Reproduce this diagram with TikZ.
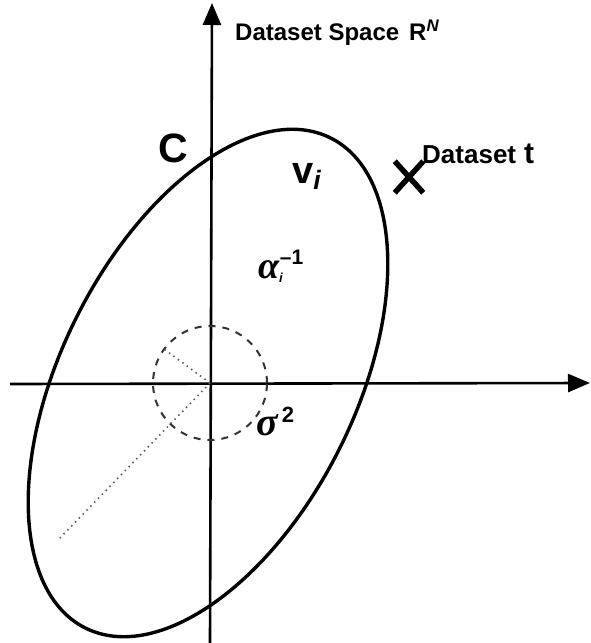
\RequirePackage{fix-cm}
\documentclass[tikz,border=0pt]{standalone}
\usepackage{fontspec}
\setmainfont{Liberation Sans}
\newfontfamily\grk{Liberation Serif}
\usetikzlibrary{arrows.meta,shapes.misc}
\begin{document}
\begin{tikzpicture}[x=1pt,y=-1pt,
  axis/.style={line width=2.6pt,-{Triangle[length=22pt,width=18pt]}},
  ell/.style={line width=3.4pt},
  dashcirc/.style={line width=2pt,black!80,dash pattern=on 7pt off 7pt},
  dotline/.style={line width=1.6pt,black!65,dash pattern=on 1.5pt off 4pt},
  lbl/.style={anchor=base west,inner sep=0pt}]
\useasboundingbox (0,0) rectangle (590,643);
% axes
\coordinate (O) at (210,383);
\coordinate (xs) at (10,384);
\coordinate (xe) at (590,383);
\coordinate (ys) at (210,643);
\coordinate (ye) at (212,3);
\draw[axis] (xs) -- (xe);
\draw[axis] (ys) -- (ye);
% ellipse C
\draw[ell,shift={(208,383)},rotate=63.4] (0,0) ellipse [x radius=274pt,y radius=147pt];
% dashed circle sigma^2
\draw[dashcirc] (O) circle [radius=57pt];
\coordinate (r1) at (164,349);
\coordinate (r2) at (58,540);
\draw[dotline] (O) -- (r1);
\draw[dotline] (O) -- (r2);
% dataset point
\node[cross out,draw,line width=5.5pt,minimum width=23pt,minimum height=26pt,inner sep=0pt] (T) at (409,177) {};
% labels
\node[lbl,font=\fontsize{24}{24}\selectfont\bfseries] (ds) at (235,40) {Dataset Space\hspace{10pt}R\textsuperscript{\itshape N}};
\node[lbl,font=\fontsize{41}{41}\selectfont\bfseries] (C) at (158,162) {C};
\node[lbl,font=\fontsize{38}{38}\selectfont\bfseries] (v) at (292,183) {v\textsubscript{\itshape i}};
\node[lbl,font=\fontsize{38}{38}\selectfont] (a) at (258,278) {{\grk\bfseries\itshape α}\raisebox{-4pt}{\fontsize{13}{13}\selectfont\bfseries\itshape i}\hspace{-3pt}\raisebox{14pt}{\fontsize{21}{21}\selectfont\bfseries –1}};
\node[lbl,font=\fontsize{40}{40}\selectfont] (s) at (256,435) {{\grk\bfseries\itshape σ}\hspace{4pt}\raisebox{13pt}{\fontsize{22}{22}\selectfont\bfseries 2}};
\node[lbl,font=\fontsize{26}{26}\selectfont\bfseries] (dt) at (422,163) {Dataset\hspace{8pt}{\fontsize{30}{30}\selectfont t}};
\end{tikzpicture}
\end{document}
